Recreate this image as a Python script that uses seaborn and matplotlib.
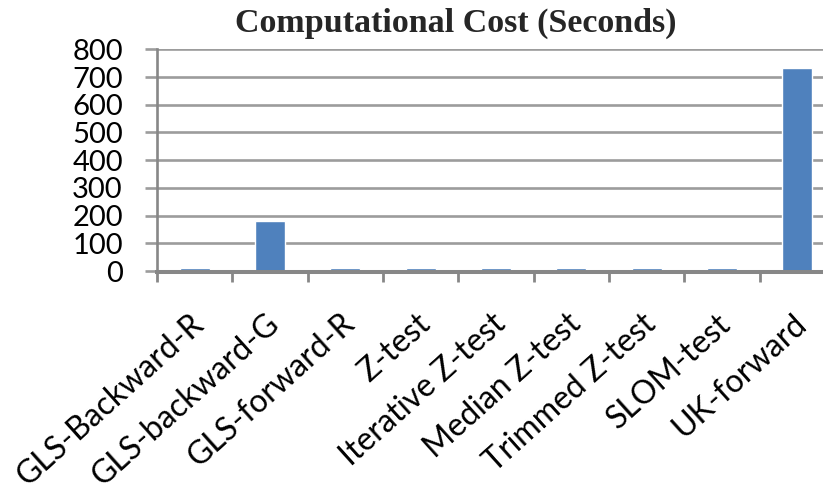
import matplotlib
matplotlib.use("Agg")
import matplotlib.pyplot as plt
import matplotlib.transforms as mtransforms
import numpy as np
import pandas as pd
import seaborn as sns

methods = ["GLS-Backward-R", "GLS-backward-G", "GLS-forward-R", "Z-test",
           "Iterative Z-test", "Median Z-test", "Trimmed Z-test", "SLOM-test",
           "UK-forward"]
cost_seconds = [12, 182, 12, 12, 12, 12, 12, 12, 732]
y_ticks = [0, 100, 200, 300, 400, 500, 600, 700, 800]
title_text = "Computational Cost (Seconds)"

df = pd.DataFrame({"method": methods, "cost": cost_seconds})

sns.set_style("white")
plt.rcParams["font.family"] = ["Lato", "DejaVu Sans"]

W, H = 823, 492
fig = plt.figure(figsize=(W / 100, H / 100), dpi=100)
ax = fig.add_axes([157 / W, 1 - 271 / H, 678 / W, (271 - 49.3) / H])

grid_c = "#9c9c9c"
axis_c = "#878787"

sns.barplot(data=df, x="method", y="cost", color="#4F81BD", width=0.4,
            saturation=1, ax=ax, zorder=3)

ax.set_xlim(-0.5, len(methods) - 0.5)
ax.set_ylim(0, 800)
ax.set_yticks(y_ticks)
ax.set_yticklabels([str(v) for v in y_ticks], fontsize=21)
ax.yaxis.grid(True, color=grid_c, linewidth=1.9, zorder=0)
ax.set_axisbelow(True)

for side in ("top", "right"):
    ax.spines[side].set_visible(False)
ax.spines["left"].set_color(axis_c)
ax.spines["left"].set_linewidth(1.9)
ax.spines["bottom"].set_color(axis_c)
ax.spines["bottom"].set_linewidth(2.9)
ax.spines["bottom"].set_position(("outward", 0.9))
ax.spines["bottom"].set_zorder(5)

ax.tick_params(axis="y", which="major", direction="out", length=8.6,
               width=1.9, color=grid_c, pad=16, labelcolor="black", left=True)

# category labels at the bar centres, boundary ticks between categories
ax.set_xticks(np.arange(len(methods)))
ax.set_xticklabels(methods, rotation=42, ha="right", va="top",
                   rotation_mode="anchor", fontsize=23)
ax.tick_params(axis="x", which="major", length=0, pad=26, labelcolor="black")
ax.set_xticks(np.arange(-0.5, len(methods), 1.0), minor=True)
ax.tick_params(axis="x", which="minor", direction="out", length=7,
               width=2.0, color=axis_c, bottom=True)
shift = mtransforms.ScaledTranslation(-5 / 100, 0, fig.dpi_scale_trans)
for lbl in ax.get_xticklabels():
    lbl.set_transform(lbl.get_transform() + shift)

ax.set_xlabel("")
ax.set_ylabel("")

fig.text(456 / W, 1 - 23 / H, title_text, ha="center", va="center",
         fontsize=24.5, fontweight="bold", family=["Liberation Serif", "DejaVu Serif"])

fig.savefig("out.png", dpi=100)
